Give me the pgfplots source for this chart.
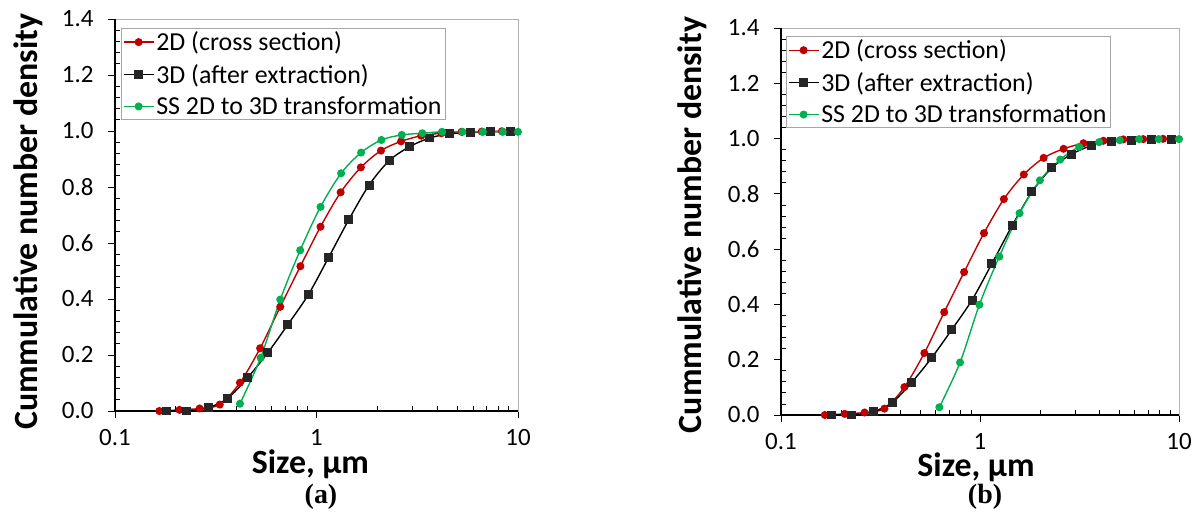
\documentclass[border=0pt]{standalone}
\usepackage{fontspec}
\setmainfont{Carlito}
\newfontfamily\timesf{Liberation Serif}
\usepackage{pgfplots}
\usepackage{pgfplotstable}
\pgfplotsset{compat=1.18}
\definecolor{cred}{HTML}{C00000}
\definecolor{cgreen}{HTML}{00B050}
\definecolor{cblack}{HTML}{262626}

\pgfplotstableread{
x y
0.166 0.000
0.209 0.004
0.263 0.009
0.331 0.023
0.417 0.101
0.525 0.224
0.661 0.372
0.832 0.517
1.047 0.658
1.318 0.781
1.660 0.870
2.089 0.930
2.630 0.963
3.311 0.983
4.169 0.992
5.248 0.997
6.607 0.998
8.318 0.999
}\redtab

\pgfplotstableread{
x y
0.180 0.000
0.227 0.000
0.290 0.012
0.362 0.045
0.455 0.119
0.573 0.208
0.720 0.308
0.912 0.416
1.146 0.547
1.448 0.684
1.824 0.807
2.295 0.894
2.895 0.944
3.650 0.975
4.575 0.990
5.800 0.994
7.280 0.998
9.140 0.998
}\blacktab

\pgfplotstableread{
x y
0.417 0.026
0.528 0.190
0.661 0.398
0.830 0.574
1.047 0.729
1.325 0.849
1.665 0.923
2.100 0.968
2.650 0.986
3.350 0.992
4.200 0.997
5.300 0.997
6.700 0.997
8.400 0.997
10.00 0.997
}\greenAtab

\pgfplotstableread{
x y
0.625 0.028
0.794 0.190
0.993 0.399
1.250 0.573
1.580 0.730
2.000 0.849
2.530 0.924
3.150 0.970
3.970 0.987
5.040 0.994
6.300 0.998
7.910 0.998
10.00 0.998
}\greenBtab

\begin{document}
\begin{tikzpicture}
\path[use as bounding box] (0,0) rectangle (1195bp,517bp);

\begin{axis}[
  xmode=log,
  scale only axis,
  xmin=0.1, xmax=10, ymin=0, ymax=1.4,
  xtick={0.1,1,10}, xticklabels={0.1,1,10},
  ytick={0,0.2,0.4,0.6,0.8,1.0,1.2,1.4},
  yticklabels={0.0,0.2,0.4,0.6,0.8,1.0,1.2,1.4},
  tick label style={font=\fontsize{25}{29}\selectfont},
  xtick pos=left, ytick pos=left,
  tick align=outside,
  major tick length=7bp,
  minor tick length=0bp,
  tick style={black, line width=0.8pt},
  axis line style={draw=gray!60, line width=0.8pt},
  xticklabel style={yshift=-8bp},
  yticklabel style={xshift=-11bp},
  clip=false,
  label style={font=\fontsize{34}{40}\selectfont\bfseries},
  legend cell align=left,
  legend image code/.code={\draw[mark repeat=2,mark phase=2] plot coordinates {(0bp,0bp)(15bp,0bp)(30bp,0bp)};},
  legend style={font=\fontsize{26}{31}\selectfont, draw=gray!70, line width=0.8pt, inner sep=1.5pt, row sep=8bp, anchor=north west, at={(rel axis cs:0.015,0.977)}},
  at={(115bp,106bp)}, anchor=south west,
  width=403bp, height=392bp,
  xlabel={Size, µm}, ylabel={Cummulative number density},
  xlabel style={at={(axis description cs:0.485,-0.136)}, anchor=center},
  ylabel style={at={(axis description cs:-0.216,0.483)}, anchor=center},
]
\pgfplotsinvokeforeach{0.2,0.3,0.4,0.5,0.6,0.7,0.8,0.9,2,3,4,5,6,7,8,9}{
  \draw[black, line width=0.8pt] (axis cs:#1,0) -- ([yshift=5bp]axis cs:#1,0);
}
\pgfplotsinvokeforeach{0.04,0.08,0.12,0.16,0.24,0.28,0.32,0.36,0.44,0.48,0.52,0.56,0.64,0.68,0.72,0.76,0.84,0.88,0.92,0.96,1.04,1.08,1.12,1.16,1.24,1.28,1.32,1.36}{
  \draw[black, line width=0.8pt] (axis cs:0.1,#1) -- ([xshift=5bp]axis cs:0.1,#1);
}
\addplot[color=cred, line width=1.4pt, smooth, mark=*, mark size=3.3bp, mark options={solid, fill=cred, draw=cred}] table {\redtab};
\addlegendentry{2D (cross section)}
\addplot[color=black, line width=1.4pt, smooth, mark=square*, mark size=3.8bp, mark options={solid, fill=cblack, draw=cblack}] table {\blacktab};
\addlegendentry{3D (after extraction)}
\addplot[color=cgreen, line width=1.4pt, smooth, mark=*, mark size=3.3bp, mark options={solid, fill=cgreen, draw=cgreen}] table {\greenAtab};
\addlegendentry{SS 2D to 3D transformation}
\draw[black, line width=1.2pt] (rel axis cs:0,1) -- (rel axis cs:0,0) -- (rel axis cs:1,0);
\end{axis}

\begin{axis}[
  xmode=log,
  scale only axis,
  xmin=0.1, xmax=10, ymin=0, ymax=1.4,
  xtick={0.1,1,10}, xticklabels={0.1,1,10},
  ytick={0,0.2,0.4,0.6,0.8,1.0,1.2,1.4},
  yticklabels={0.0,0.2,0.4,0.6,0.8,1.0,1.2,1.4},
  tick label style={font=\fontsize{25}{29}\selectfont},
  xtick pos=left, ytick pos=left,
  tick align=outside,
  major tick length=7bp,
  minor tick length=0bp,
  tick style={black, line width=0.8pt},
  axis line style={draw=gray!60, line width=0.8pt},
  xticklabel style={yshift=-8bp},
  yticklabel style={xshift=-11bp},
  clip=false,
  label style={font=\fontsize{34}{40}\selectfont\bfseries},
  legend cell align=left,
  legend image code/.code={\draw[mark repeat=2,mark phase=2] plot coordinates {(0bp,0bp)(15bp,0bp)(30bp,0bp)};},
  legend style={font=\fontsize{26}{31}\selectfont, draw=gray!70, line width=0.8pt, inner sep=1.5pt, row sep=8bp, anchor=north west, at={(rel axis cs:0.0126,0.979)}},
  at={(781bp,102bp)}, anchor=south west,
  width=398bp, height=387bp,
  xlabel={Size, µm}, ylabel={Cummulative number density},
  xlabel style={at={(axis description cs:0.49,-0.135)}, anchor=center},
  ylabel style={at={(axis description cs:-0.224,0.491)}, anchor=center},
]
\pgfplotsinvokeforeach{0.2,0.3,0.4,0.5,0.6,0.7,0.8,0.9,2,3,4,5,6,7,8,9}{
  \draw[black, line width=0.8pt] (axis cs:#1,0) -- ([yshift=5bp]axis cs:#1,0);
}
\pgfplotsinvokeforeach{0.04,0.08,0.12,0.16,0.24,0.28,0.32,0.36,0.44,0.48,0.52,0.56,0.64,0.68,0.72,0.76,0.84,0.88,0.92,0.96,1.04,1.08,1.12,1.16,1.24,1.28,1.32,1.36}{
  \draw[black, line width=0.8pt] (axis cs:0.1,#1) -- ([xshift=5bp]axis cs:0.1,#1);
}
\addplot[color=cred, line width=1.4pt, smooth, mark=*, mark size=3.3bp, mark options={solid, fill=cred, draw=cred}] table {\redtab};
\addlegendentry{2D (cross section)}
\addplot[color=black, line width=1.4pt, smooth, mark=square*, mark size=3.8bp, mark options={solid, fill=cblack, draw=cblack}] table {\blacktab};
\addlegendentry{3D (after extraction)}
\addplot[color=cgreen, line width=1.4pt, smooth, mark=*, mark size=3.3bp, mark options={solid, fill=cgreen, draw=cgreen}] table {\greenBtab};
\addlegendentry{SS 2D to 3D transformation}
\draw[black, line width=1.2pt] (rel axis cs:0,1) -- (rel axis cs:0,0) -- (rel axis cs:1,0);
\end{axis}

\node[font=\timesf\bfseries\fontsize{28}{32}\selectfont] at (321bp,20bp) {(a)};
\node[font=\timesf\bfseries\fontsize{28}{32}\selectfont] at (985bp,20bp) {(b)};
\end{tikzpicture}
\end{document}
